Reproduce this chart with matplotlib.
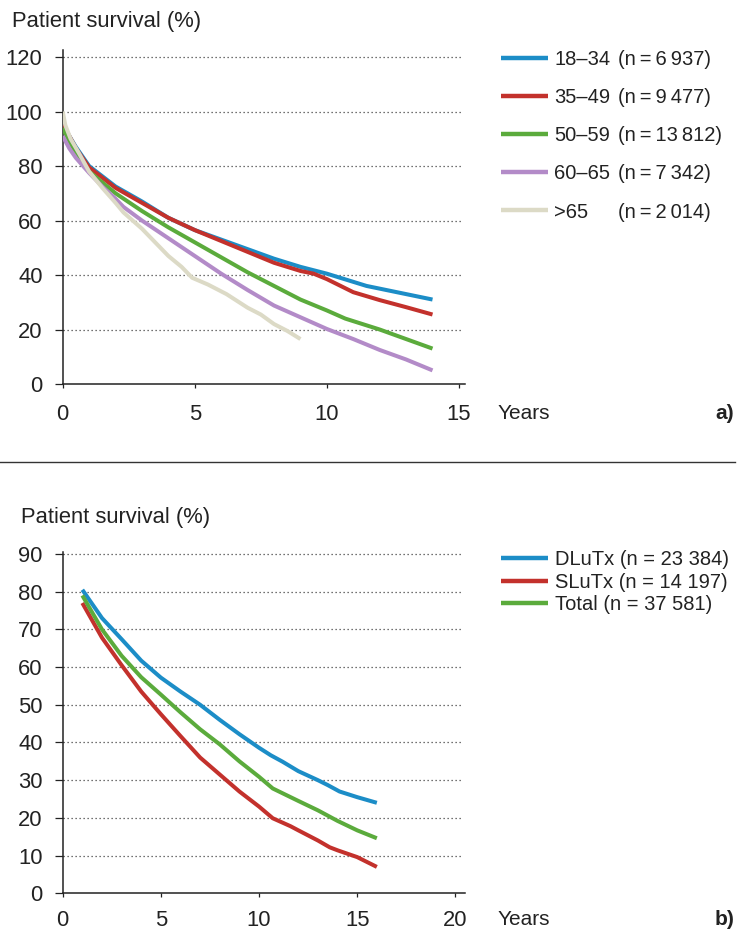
import matplotlib
matplotlib.use("Agg")
import matplotlib.pyplot as plt
from matplotlib.lines import Line2D

plt.rcParams['font.family'] = ['Liberation Sans', 'DejaVu Sans']

TS = '\u2009'

# ---------------- Panel a) data ----------------
a_labels = ['18–34', '35–49', '50–59', '60–65', '>65']
a_n = ['6' + TS + '937', '9' + TS + '477', '13' + TS + '812', '7' + TS + '342', '2' + TS + '014']
a_colors = ['#1c8dc7', '#c3312c', '#5bab3c', '#b38bc8', '#dcdac6']

a_x_1834 = [0, 0.25, 0.5, 1, 2, 3, 4, 5, 6, 7, 8, 9, 10, 11, 11.5, 12, 13, 14]
a_y_1834 = [95, 91, 87, 80, 72.5, 67, 61, 56.5, 53, 49.5, 46, 43, 40.5, 37.5, 36, 35, 33, 31]
a_x_3549 = [0, 0.25, 0.5, 1, 2, 3, 4, 5, 6, 7, 8, 9, 9.5, 10, 11, 12, 13, 14]
a_y_3549 = [95, 91, 86.5, 79.5, 72, 66.5, 61, 56.5, 52.5, 48.5, 44.5, 41.5, 40.5, 38.5, 33.7, 30.8, 28.2, 25.5]
a_x_5059 = [0, 0.25, 0.5, 1, 2, 3, 4, 5, 6, 7, 8, 9, 10, 10.7, 12, 13, 14]
a_y_5059 = [94, 89, 85, 78, 70, 63.5, 57.5, 52, 46.5, 41, 36, 31, 27, 24, 20, 16.5, 13]
a_x_6065 = [0, 0.25, 0.5, 1, 1.5, 2, 2.3, 3, 4, 5, 6, 7, 8, 9, 10, 11, 12, 13, 14]
a_y_6065 = [91, 86.5, 83, 77.5, 72.5, 68, 65, 60, 53.5, 47, 40.5, 34.5, 28.8, 24.5, 20.2, 16.5, 12.5, 9, 5]
a_x_65 = [0, 0.1, 0.3, 0.6, 1, 1.5, 2, 2.3, 3, 3.5, 4, 4.5, 4.9, 5.5, 6.2, 7, 7.5, 8, 8.5, 9]
a_y_65 = [100, 95, 90, 85, 78, 72, 66.5, 63, 57, 52, 47, 43, 39, 36.5, 33, 28, 25.5, 22, 19.5, 16.5]

a_xs = [a_x_1834, a_x_3549, a_x_5059, a_x_6065, a_x_65]
a_ys = [a_y_1834, a_y_3549, a_y_5059, a_y_6065, a_y_65]
a_xticks = [0, 5, 10, 15]
a_yticks = [0, 20, 40, 60, 80, 100, 120]

# ---------------- Panel b) data ----------------
b_labels = ['DLuTx (n = 23 384)', 'SLuTx (n = 14 197)', 'Total (n = 37 581)']
b_colors = ['#1c8dc7', '#c3312c', '#5bab3c']
b_x_d = [1, 2, 3, 4, 5, 6, 7, 8, 9, 10, 10.6, 11.2, 12, 13, 13.5, 14.1, 15, 16]
b_y_d = [80.5, 73, 67.4, 61.7, 57.2, 53.5, 50, 46, 42.2, 38.6, 36.6, 34.9, 32.4, 30, 28.7, 27, 25.5, 24]
b_x_s = [1, 2, 3, 4, 5, 6, 7, 8, 9, 10, 10.7, 11.6, 12, 13, 13.6, 14, 15, 16]
b_y_s = [77, 67.8, 60.5, 53.5, 47.5, 41.7, 36, 31.5, 27, 23, 19.9, 17.8, 16.7, 14, 12.2, 11.4, 9.6, 7]
b_x_t = [1, 2, 3, 4, 5, 6, 7, 8, 9, 10, 10.7, 12, 13, 14, 15, 16]
b_y_t = [79, 70, 63, 57.3, 52.7, 48, 43.5, 39.5, 35, 30.9, 27.8, 24.5, 22, 19.2, 16.7, 14.6]
b_xs = [b_x_d, b_x_s, b_x_t]
b_ys = [b_y_d, b_y_s, b_y_t]
b_xticks = [0, 5, 10, 15, 20]
b_yticks = [0, 10, 20, 30, 40, 50, 60, 70, 80, 90]

W, H = 756, 936
fig = plt.figure(figsize=(W / 100, H / 100), dpi=100)
FS_T = 15.8   # ticks and titles
FS_L = 14.5   # legends
LW = 2.9
TXT = '#222222'


def style_axes(ax, xticks, yticks, xpad):
    for s in ['top', 'right']:
        ax.spines[s].set_visible(False)
    for s in ['left', 'bottom']:
        ax.spines[s].set_linewidth(1.1)
        ax.spines[s].set_color(TXT)
    ax.set_xticks(xticks)
    ax.set_yticks(yticks)
    ax.tick_params(axis='y', direction='out', length=5.5, width=0.9, pad=9,
                   labelsize=FS_T, colors=TXT)
    ax.tick_params(axis='x', direction='out', length=2.8, width=0.9, pad=xpad,
                   labelsize=FS_T, colors=TXT)
    for yv in yticks[1:]:
        ax.axhline(yv, xmin=0, xmax=0.995, color='#444444', lw=0.9,
                   linestyle=(0, (1, 2.2)), zorder=0)


# ---- Panel a ----
axa = fig.add_axes([62.7 / W, 1 - 384 / H, 402.3 / W, 334 / H])
for xs, ys, c, lab in zip(a_xs, a_ys, a_colors, a_labels):
    axa.plot(xs, ys, color=c, lw=LW, label=lab, solid_capstyle='butt', zorder=3)
axa.set_xlim(0, 15.23)
axa.set_ylim(0, 122.6)
style_axes(axa, a_xticks, a_yticks, 11.5)

lega = axa.legend(loc='upper left', bbox_to_anchor=(501 / W, 1 - 50 / H),
                  bbox_transform=fig.transFigure, frameon=False, fontsize=FS_L,
                  handlelength=2.35, handletextpad=0.3, labelspacing=0.95,
                  borderaxespad=0, borderpad=0)
for h in lega.get_lines():
    h.set_linewidth(3.2)
for t in lega.get_texts():
    t.set_color(TXT)
fig.canvas.draw()
for txt, n in zip(lega.get_texts(), a_n):
    axa.annotate('(n' + TS + '=' + TS + n + ')', xy=(618, 0),
                 xycoords=('figure pixels', txt), ha='left', va='bottom',
                 fontsize=FS_L, color=TXT, annotation_clip=False)

# ---- Panel b ----
axb = fig.add_axes([62.7 / W, 1 - 893.3 / H, 402.3 / W, 341.6 / H])
for xs, ys, c, lab in zip(b_xs, b_ys, b_colors, b_labels):
    axb.plot(xs, ys, color=c, lw=LW, label=lab, solid_capstyle='butt', zorder=3)
axb.set_xlim(0, 20.49)
axb.set_ylim(0, 90.6)
style_axes(axb, b_xticks, b_yticks, 9)

legb = axb.legend(loc='upper left', bbox_to_anchor=(501 / W, 1 - 550 / H),
                  bbox_transform=fig.transFigure, frameon=False, fontsize=FS_L,
                  handlelength=2.35, handletextpad=0.35, labelspacing=0.18,
                  borderaxespad=0, borderpad=0)
for h in legb.get_lines():
    h.set_linewidth(3.2)
for t in legb.get_texts():
    t.set_color(TXT)


# ---- Figure texts ----
def ftext(xp, yp, s, size=FS_T, **kw):
    fig.text(xp / W, 1 - yp / H, s, fontsize=size, color=TXT, **kw)


ftext(12, 27, 'Patient survival (%)', ha='left', va='baseline')
ftext(21, 523, 'Patient survival (%)', ha='left', va='baseline')
ftext(498, 419, 'Years', size=15, ha='left', va='baseline')
ftext(498, 925, 'Years', size=15, ha='left', va='baseline')
ftext(734, 419, 'a)', size=15, ha='right', va='baseline', fontweight='bold')
ftext(734, 925, 'b)', size=15, ha='right', va='baseline', fontweight='bold')

fig.add_artist(Line2D([0, 735 / W], [1 - 462 / H, 1 - 462 / H],
                      transform=fig.transFigure, color='#333333', lw=1.0))

fig.savefig('out.png', dpi=100)
